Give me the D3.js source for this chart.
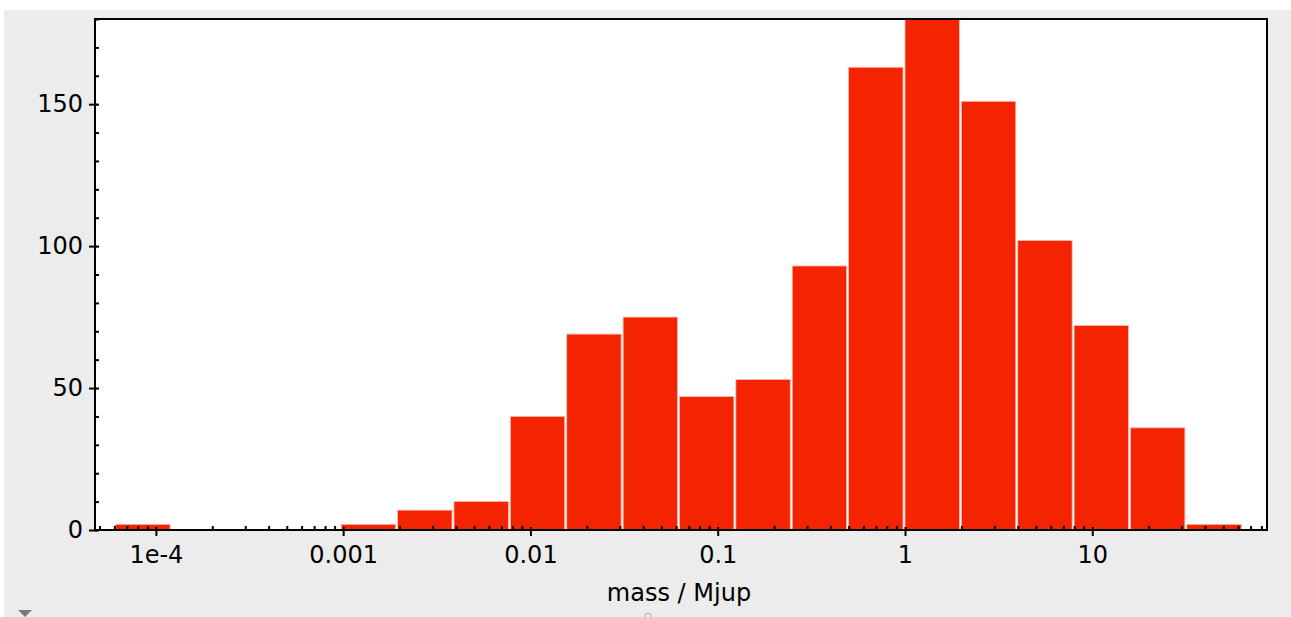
<!DOCTYPE html>
<html>
<head>
<meta charset="utf-8">
<script src="https://cdn.jsdelivr.net/npm/d3@7"></script>
<style>
  body { margin: 0; background: #fff; }
  .axis text { font-family: "DejaVu Sans", sans-serif; font-size: 24px; fill: #000; }
  .axis path, .axis line { stroke: #000; }
</style>
</head>
<body>
<div class="chart"></div>
<script>
// histogram bins (factor of 2 wide), lower edges + the final upper edge
const binEdges = [0.000061035, 0.00012207, 0.00024414, 0.00048828, 0.00097656,
  0.0019531, 0.0039063, 0.0078125, 0.015625, 0.03125, 0.0625, 0.125, 0.25, 0.5,
  1, 2, 4, 8, 16, 32, 64];
const counts = [2, 0, 0, 0, 2, 7, 10, 40, 69, 75, 47, 53, 93, 163, 180, 151, 102, 72, 36, 2];

const xTickValues = [1e-4, 0.001, 0.01, 0.1, 1, 10];
const xTickLabels = ['1e-4', '0.001', '0.01', '0.1', '1', '10'];
const yTickValues = [0, 50, 100, 150];
const xLabel = 'mass / Mjup';

const bins = counts.map((c, i) => ({x0: binEdges[i], x1: binEdges[i + 1], count: c}));

const W = 1291, H = 617;
const margin = ({top: 19, right: 24, bottom: 87, left: 95});
const width = W - margin.left - margin.right;
const height = H - margin.top - margin.bottom;

const root = d3.select('.chart')
  .append('svg')
  .attr('width', W)
  .attr('height', H);

// window-ish grey panel
root.append('rect')
  .attr('x', 4).attr('y', 10)
  .attr('width', W - 4).attr('height', H - 10)
  .attr('fill', '#ececec');

const svg = root.append('g')
  .attr('transform', `translate(${margin.left},${margin.top})`);

const xScale = d3.scaleLog()
  .domain([4.73e-5, 85.7])
  .range([0, width]);

const yScale = d3.scaleLinear()
  .domain([0, 180])
  .range([height, 0]);

svg.append('rect')
  .attr('width', width)
  .attr('height', height)
  .attr('fill', '#fff');

// bars
svg.selectAll('.bar')
  .data(bins.filter(d => d.count > 0))
  .enter()
  .append('rect')
  .attr('class', 'bar')
  .attr('x', d => xScale(d.x0))
  .attr('y', d => yScale(d.count))
  .attr('width', d => xScale(d.x1) - xScale(d.x0) - 2)
  .attr('height', d => height - yScale(d.count))
  .attr('fill', '#f52400')
  .attr('stroke', '#fbb9ad')
  .attr('stroke-width', 0.8);

// minor x ticks (inward)
const xMinor = xScale.ticks().filter(v => {
  const l = Math.log10(v);
  return Math.abs(l - Math.round(l)) > 1e-6;
});
svg.append('g')
  .attr('class', 'axis')
  .attr('transform', `translate(0,${height})`)
  .call(d3.axisBottom(xScale).tickValues(xMinor).tickSize(-4).tickFormat(''))
  .call(g => g.select('.domain').remove())
  .selectAll('line').attr('stroke-width', 2);

// major x ticks
const xAxis = svg.append('g')
  .attr('class', 'axis x-axis')
  .attr('transform', `translate(0,${height})`)
  .call(d3.axisBottom(xScale)
    .tickValues(xTickValues)
    .tickSize(6)
    .tickPadding(10)
    .tickFormat((d, i) => xTickLabels[i]));
xAxis.select('.domain').remove();
xAxis.selectAll('line').attr('y1', -3).attr('stroke-width', 2);
xAxis.selectAll('text').attr('dy', '0.71em');

// minor y ticks (inward)
svg.append('g')
  .attr('class', 'axis')
  .call(d3.axisLeft(yScale).ticks(18).tickSize(-4).tickFormat(''))
  .call(g => g.select('.domain').remove())
  .selectAll('line').attr('stroke-width', 2);

// major y ticks
const yAxis = svg.append('g')
  .attr('class', 'axis y-axis')
  .call(d3.axisLeft(yScale).tickValues(yTickValues).tickSize(6).tickPadding(6));
yAxis.select('.domain').remove();
yAxis.selectAll('line').attr('x1', 2).attr('stroke-width', 2);

// frame
svg.append('rect')
  .attr('width', width)
  .attr('height', height)
  .attr('fill', 'none')
  .attr('stroke', '#000')
  .attr('stroke-width', 2);

// axis title
svg.append('text')
  .attr('x', width / 2 - 2)
  .attr('y', height + 71)
  .attr('text-anchor', 'middle')
  .attr('font-family', '"DejaVu Sans", sans-serif')
  .attr('font-size', 24)
  .attr('fill', '#000')
  .text(xLabel);

// little ui bits along the bottom edge
root.append('path')
  .attr('d', 'M18,610 L32,610 L25,617 Z')
  .attr('fill', '#7a7a7a');
root.append('circle')
  .attr('cx', 648).attr('cy', 616).attr('r', 3)
  .attr('fill', 'none').attr('stroke', '#aaa');
</script>
</body>
</html>
